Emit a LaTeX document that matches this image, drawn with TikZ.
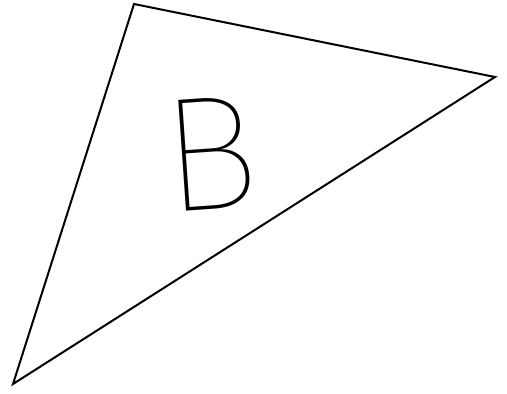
\documentclass[tikz,border=0pt]{standalone}
\usepackage{fontspec}
\newfontfamily\bfont{Fira Sans Thin}
\tikzset{edge/.style={line width=2pt, line join=miter, line cap=round}}
\begin{document}
\begin{tikzpicture}[x=1pt,y=-1pt]
\useasboundingbox (0,0) rectangle (507,394);
\coordinate (t) at (134,4);
\coordinate (r) at (495,77);
\coordinate (l) at (13,384);
\draw[edge] (t) -- (r) -- (l) -- cycle;
\node[inner sep=0, xscale=1.0, rotate=4, font=\bfont\fontsize{163}{163}\selectfont] (b) at (210,154) {B};
\end{tikzpicture}
\end{document}
